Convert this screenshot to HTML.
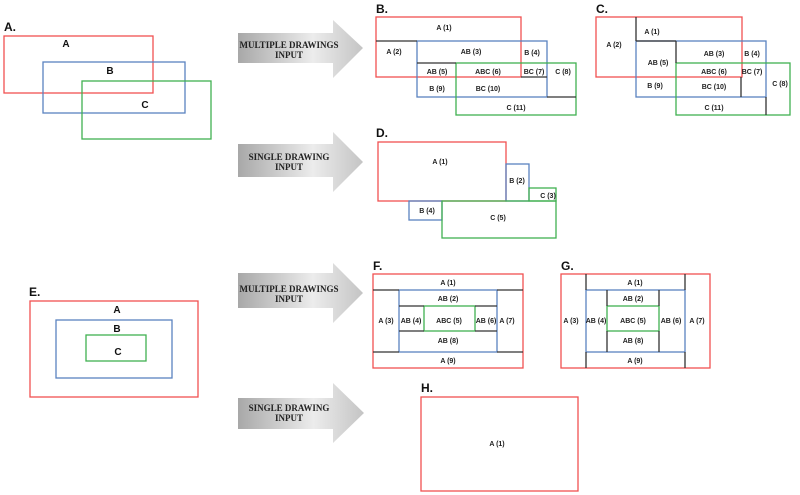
<!DOCTYPE html>
<html><head><style>body{margin:0;background:#fff}svg{display:block}</style></head><body>
<svg width="800" height="495" viewBox="0 0 800 495" xmlns="http://www.w3.org/2000/svg" font-family="Liberation Sans, sans-serif">
<defs>
<linearGradient id="g" x1="0" x2="1" y1="0" y2="0">
<stop offset="0" stop-color="#a8a8a8"/><stop offset="0.6" stop-color="#ececec"/><stop offset="1" stop-color="#c4c4c4"/>
</linearGradient>
</defs>
<g fill="url(#g)">
<polygon points="238,33 333,33 333,20 363,48 333,78 333,63 238,63"/>
<polygon points="238,144 333,144 333,132 363,162 333,192 333,177 238,177"/>
<polygon points="238,273 333,273 333,263 363,293 333,323 333,308 238,308"/>
<polygon points="238,398 333,398 333,383 364,413 333,443 333,429 238,429"/>
</g>
<g font-family="Liberation Serif, serif" font-weight="bold" font-size="9" text-anchor="middle" fill="#222">
<text x="289" y="48">MULTIPLE DRAWINGS</text><text x="289" y="58">INPUT</text>
<text x="289" y="160">SINGLE DRAWING</text><text x="289" y="170">INPUT</text>
<text x="289" y="292">MULTIPLE DRAWINGS</text><text x="289" y="302">INPUT</text>
<text x="289" y="411">SINGLE DRAWING</text><text x="289" y="421">INPUT</text>
</g>
<g font-weight="bold" font-size="12" fill="#111">
<text x="4" y="31">A.</text><text x="376" y="13">B.</text><text x="596" y="13">C.</text>
<text x="376" y="137">D.</text><text x="29" y="296">E.</text><text x="373" y="270">F.</text>
<text x="561" y="270">G.</text><text x="421" y="392">H.</text>
</g>
<g fill="none" stroke-width="1.3">
<rect x="4" y="36" width="149" height="57" stroke="#f05050"/>
<rect x="43" y="62" width="142" height="51" stroke="#5a82c0"/>
<rect x="82" y="81" width="129" height="58" stroke="#40b050"/>
<rect x="376" y="17" width="145" height="60" stroke="#f05050"/>
<rect x="417" y="41" width="130" height="56" stroke="#5a82c0"/>
<rect x="456" y="63" width="120" height="52" stroke="#40b050"/>
<path d="M376 41H417M417 63H456M521 77H547M547 97H576" stroke="#333"/>
<rect x="596" y="17" width="146" height="60" stroke="#f05050"/>
<rect x="636" y="41" width="130" height="56" stroke="#5a82c0"/>
<rect x="676" y="63" width="114" height="52" stroke="#40b050"/>
<path d="M636 17V41M636 41H676M676 41V63M741 77V97M766 97V115" stroke="#333"/>
<rect x="378" y="142" width="128" height="59" stroke="#f05050"/>
<rect x="506" y="164" width="23" height="37" stroke="#5a82c0"/>
<rect x="529" y="188" width="27" height="13" stroke="#40b050"/>
<rect x="409" y="201" width="33" height="19" stroke="#5a82c0"/>
<rect x="442" y="201" width="114" height="37" stroke="#40b050"/>
<rect x="30" y="301" width="168" height="96" stroke="#f05050"/>
<rect x="56" y="320" width="116" height="58" stroke="#5a82c0"/>
<rect x="86" y="335" width="60" height="26" stroke="#40b050"/>
<rect x="373" y="274" width="150" height="94" stroke="#f05050"/>
<rect x="399" y="290" width="98" height="62" stroke="#5a82c0"/>
<rect x="424" y="306" width="51" height="25" stroke="#40b050"/>
<path d="M373 290H399M497 290H523M373 352H399M497 352H523M399 306H424M475 306H497M399 331H424M475 331H497" stroke="#333"/>
<rect x="561" y="274" width="149" height="94" stroke="#f05050"/>
<rect x="586" y="290" width="99" height="62" stroke="#5a82c0"/>
<rect x="607" y="306" width="52" height="25" stroke="#40b050"/>
<path d="M586 274V290M685 274V290M586 352V368M685 352V368M607 290V306M659 290V306M607 331V352M659 331V352" stroke="#333"/>
<rect x="421" y="397" width="157" height="94" stroke="#f05050"/>
</g>
<g font-weight="bold" font-size="10" fill="#111" text-anchor="middle">
<text x="66" y="47">A</text><text x="110" y="74">B</text><text x="145" y="108">C</text>
<text x="117" y="313">A</text><text x="117" y="332">B</text><text x="118" y="355">C</text>
</g>
<g font-weight="bold" font-size="7" fill="#222" text-anchor="middle">
<text x="444" y="30">A (1)</text><text x="394" y="54">A (2)</text><text x="471" y="54">AB (3)</text><text x="532" y="55">B (4)</text>
<text x="437" y="74">AB (5)</text><text x="488" y="74">ABC (6)</text><text x="534" y="74">BC (7)</text><text x="563" y="74">C (8)</text>
<text x="437" y="91">B (9)</text><text x="488" y="91">BC (10)</text><text x="516" y="110">C (11)</text>
<text x="614" y="47">A (2)</text><text x="652" y="34">A (1)</text><text x="714" y="56">AB (3)</text><text x="752" y="56">B (4)</text>
<text x="658" y="65">AB (5)</text><text x="714" y="74">ABC (6)</text><text x="752" y="74">BC (7)</text><text x="780" y="86">C (8)</text>
<text x="655" y="88">B (9)</text><text x="714" y="89">BC (10)</text><text x="714" y="110">C (11)</text>
<text x="440" y="164">A (1)</text><text x="517" y="183">B (2)</text><text x="548" y="198">C (3)</text>
<text x="427" y="213">B (4)</text><text x="498" y="220">C (5)</text>
<text x="448" y="285">A (1)</text><text x="448" y="301">AB (2)</text><text x="386" y="323">A (3)</text><text x="411" y="323">AB (4)</text>
<text x="449" y="323">ABC (5)</text><text x="486" y="323">AB (6)</text><text x="507" y="323">A (7)</text>
<text x="448" y="343">AB (8)</text><text x="448" y="363">A (9)</text>
<text x="635" y="285">A (1)</text><text x="633" y="301">AB (2)</text><text x="571" y="323">A (3)</text><text x="596" y="323">AB (4)</text>
<text x="633" y="323">ABC (5)</text><text x="671" y="323">AB (6)</text><text x="697" y="323">A (7)</text>
<text x="633" y="343">AB (8)</text><text x="635" y="363">A (9)</text>
<text x="497" y="446">A (1)</text>
</g>
</svg>
</body></html>
